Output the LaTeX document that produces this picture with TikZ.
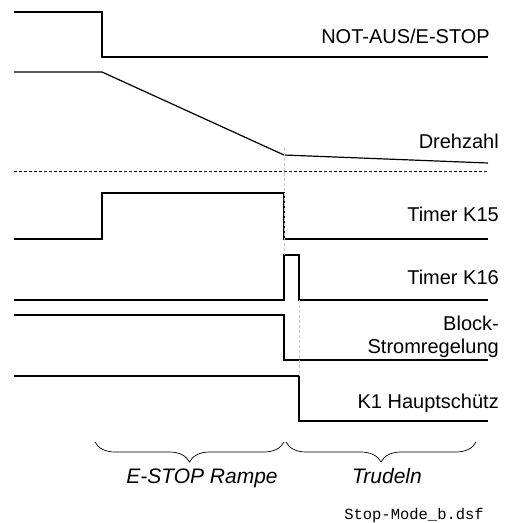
\documentclass[tikz,border=0pt]{standalone}
\usepackage{fontspec}
\setmainfont{Liberation Sans}
\setmonofont{Liberation Mono}
\usepackage{tikz}
\usetikzlibrary{calc}
\usetikzlibrary{decorations.pathreplacing}

\begin{document}
\begin{tikzpicture}[x=1pt,y=-1pt,
    signal/.style={line width=1.2pt,line join=miter},
    marker/.style={gray!45,line width=0.6pt,dash pattern=on 3pt off 2pt},
    siglabel/.style={anchor=base east,inner sep=0pt,font=\fontsize{20}{23}\selectfont,align=right},
    phase/.style={anchor=base,inner sep=0pt,font=\fontsize{21}{24}\selectfont\itshape},
    phasebrace/.style={decorate,decoration={brace,mirror,amplitude=20pt},line width=0.7pt}]
    \useasboundingbox (0,0) rectangle (506,523);
    \coordinate (Start) at (14,0);
    \coordinate (Stop) at (102,0);
    \coordinate (Ramp) at (284,0);
    \coordinate (Off) at (299,0);
    \coordinate (End) at (488,0);
    % NOT-AUS / E-STOP
    \draw [signal] ($(Start)+(0,12)$)--($(Stop)+(0,12)$)--($(Stop)+(0,57)$)--($(End)+(0,57)$);
    \node[siglabel] (estop) at (490,43) {NOT-AUS/E-STOP};
    % Drehzahl
    \draw [signal] ($(Start)+(0,72)$)--($(Stop)+(0,72)$)--($(Ramp)+(0,155)$)--($(End)+(0,163)$);
    \node[siglabel] (speed) at (499,148) {Drehzahl};
    \draw [line width=0.9pt,dash pattern=on 3pt off 2pt] ($(Start)+(0,171)$)--($(End)+(0,171)$);
    % Timer K15
    \draw [signal] ($(Start)+(0,239)$)--($(Stop)+(0,239)$)--($(Stop)+(0,193)$)--($(Ramp)+(0,193)$)--($(Ramp)+(0,239)$)--($(End)+(0,239)$);
    \node[siglabel] (kfifteen) at (499,221) {Timer K15};
    % Timer K16
    \draw [signal] ($(Start)+(0,300)$)--($(Ramp)+(0,300)$)--($(Ramp)+(0,255)$)--($(Off)+(0,255)$)--($(Off)+(0,300)$)--($(End)+(0,300)$);
    \node[siglabel] (ksixteen) at (499,284) {Timer K16};
    % Block-Stromregelung
    \draw [signal] ($(Start)+(0,315)$)--($(Ramp)+(0,315)$)--($(Ramp)+(0,360)$)--($(End)+(0,360)$);
    \node[siglabel] (block) at (499,353) {Block-\\Stromregelung};
    % K1
    \draw [signal] ($(Start)+(0,376)$)--($(Off)+(0,376)$)--($(Off)+(0,421)$)--($(End)+(0,421)$);
    \node[siglabel] (kone) at (499,408) {K1 Hauptschütz};
    % markers
    \draw [marker] ($(Ramp)+(0,148)$)--($(Ramp)+(0,255)$);
    \draw [marker] ($(Off)+(0,300)$)--($(Off)+(0,376)$);
    % phases
    \draw [phasebrace] (95,442)--(284,442);
    \draw [phasebrace] (286,442)--(476,442);
    \node[phase] (rampe) at (202,483) {E-STOP Rampe};
    \node[phase] (trudeln) at (387,483) {Trudeln};
    \node[anchor=base east,inner sep=0pt,font=\fontsize{15.5}{18}\ttfamily] (file) at (484,519) {Stop-Mode\_b.dsf};
\end{tikzpicture}
\end{document}
